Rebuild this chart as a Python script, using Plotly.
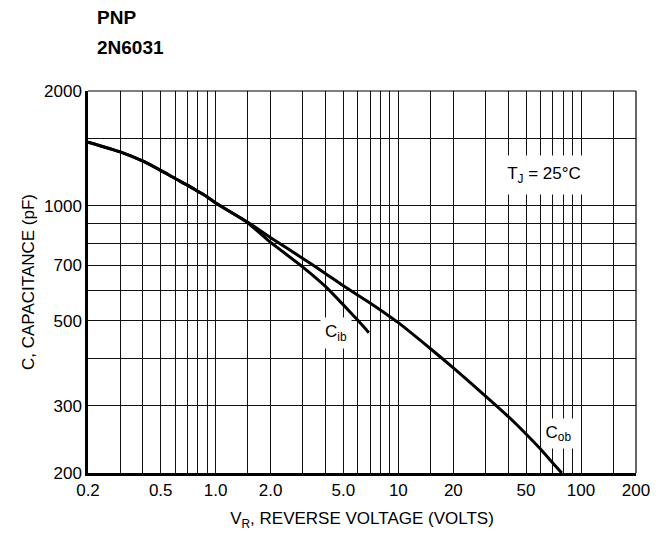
import plotly.graph_objects as go
import numpy as np

# Data
cob_v = [0.2, 0.3, 0.4, 0.5, 0.6, 0.7, 0.8, 0.9, 1.0, 1.5, 2.0, 3.0, 4.0, 5.0, 7.0, 9.0, 10,
         15, 20, 30, 40, 50, 60, 70, 78.5]
cob_c = [1470, 1386, 1310, 1239, 1180, 1134, 1092, 1056, 1018, 907, 826, 729, 665, 618, 557, 513, 495,
         423, 377, 318, 281, 253, 231, 212.5, 200]

cib_v = [0.2, 0.3, 0.4, 0.5, 0.6, 0.7, 0.8, 0.9, 1.0, 1.5, 2.0, 3.0, 4.0, 5.0, 6.0, 6.9]
cib_c = [1470, 1386, 1310, 1239, 1180, 1134, 1092, 1056, 1018, 903, 803, 692, 615, 551, 502, 466]

x_grid = [0.2, 0.3, 0.4, 0.5, 0.6, 0.7, 0.8, 0.9, 1.0, 1.5, 2, 3, 4, 5, 6, 7, 8, 9,
          10, 15, 20, 30, 40, 50, 60, 70, 80, 90, 100, 150, 200]
x_labels = {0.2: "0.2", 0.5: "0.5", 1.0: "1.0", 2: "2.0", 5: "5.0", 10: "10",
            20: "20", 50: "50", 100: "100", 200: "200"}
y_grid = [200, 300, 400, 500, 600, 700, 800, 900, 1000, 1500, 2000]
y_labels = {200: "200", 300: "300", 500: "500", 700: "700", 1000: "1000", 2000: "2000"}

FONT = "Liberation Sans, Arial, sans-serif"

fig = go.Figure()
fig.add_trace(go.Scatter(x=cib_v, y=cib_c, mode="lines", line=dict(color="black", width=3),
                         line_shape="spline", line_smoothing=0.6, showlegend=False))
fig.add_trace(go.Scatter(x=cob_v, y=cob_c, mode="lines", line=dict(color="black", width=3),
                         line_shape="spline", line_smoothing=0.6, showlegend=False))

fig.update_xaxes(type="log", range=[np.log10(0.2), np.log10(200)],
                 tickvals=x_grid, ticktext=[x_labels.get(v, "") for v in x_grid],
                 showgrid=True, gridcolor="#111", gridwidth=1,
                 showline=True, linecolor="black", linewidth=2.5, mirror=False,
                 ticks="", zeroline=False, automargin=False,
                 tickfont=dict(family=FONT, size=17, color="black"),
                 title=dict(text="V<sub>R</sub>, REVERSE VOLTAGE (VOLTS)",
                            font=dict(family=FONT, size=17, color="black"), standoff=16))
fig.update_yaxes(type="log", range=[np.log10(200), np.log10(2000)],
                 tickvals=y_grid, ticktext=[y_labels.get(v, "") for v in y_grid],
                 showgrid=True, gridcolor="#111", gridwidth=1,
                 showline=True, linecolor="black", linewidth=2.5, mirror=False,
                 ticks="", zeroline=False, automargin=False,
                 tickfont=dict(family=FONT, size=17, color="black"),
                 title=dict(text="C, CAPACITANCE (pF)",
                            font=dict(family=FONT, size=17, color="black"), standoff=6))

# thin top/right frame
fig.add_shape(type="line", xref="paper", yref="paper", x0=0, x1=1, y0=1, y1=1,
              line=dict(color="black", width=1.2))
fig.add_shape(type="line", xref="paper", yref="paper", x0=1, x1=1, y0=0, y1=1,
              line=dict(color="black", width=1.2))

fig.add_annotation(x=np.log10(63), y=np.log10(1205), text="T<sub>J</sub> = 25°C", showarrow=False,
                   bgcolor="white", width=78, height=38, borderpad=0,
                   font=dict(family=FONT, size=17, color="black"))
fig.add_annotation(x=np.log10(4.55), y=np.log10(464), text="C<sub>ib</sub>", showarrow=False,
                   bgcolor="white", width=30, height=30, borderpad=0,
                   font=dict(family=FONT, size=17, color="black"))
fig.add_annotation(x=np.log10(75), y=np.log10(254), text="C<sub>ob</sub>", showarrow=False,
                   bgcolor="white", width=29, height=29, borderpad=0,
                   font=dict(family=FONT, size=17, color="black"))

fig.add_annotation(x=0.013, y=1.0, xref="paper", yref="paper", xanchor="left", yanchor="middle",
                   yshift=74, text="<b>PNP</b>", showarrow=False, align="left",
                   font=dict(family=FONT, size=19, color="black"))
fig.add_annotation(x=0.013, y=1.0, xref="paper", yref="paper", xanchor="left", yanchor="middle",
                   yshift=44, text="<b>2N6031</b>", showarrow=False, align="left",
                   font=dict(family=FONT, size=19, color="black"))

fig.update_layout(width=651, height=523, margin=dict(l=80, r=23, t=83, b=58),
                  plot_bgcolor="white", paper_bgcolor="white")

fig.write_html("out.html")
